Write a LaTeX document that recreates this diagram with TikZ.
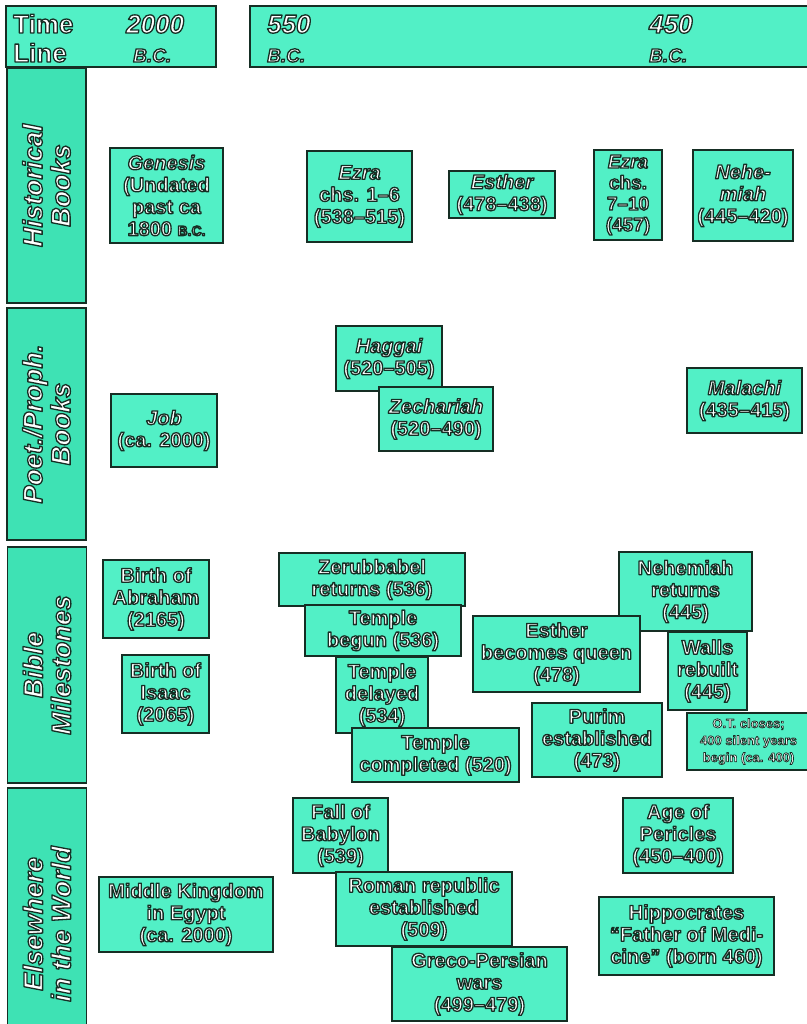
\documentclass[tikz,border=0pt]{standalone}
\usepackage{fontspec}
\setmainfont{Liberation Sans}
\definecolor{aqua}{RGB}{82,240,198}
\definecolor{aqualab}{RGB}{62,226,180}
\definecolor{edge}{RGB}{22,46,36}
\newcommand\olw{1.3}
\newcommand\oc[1]{\special{pdf:literal direct 2 Tr 1 j \olw\space w 0.086 0.18 0.14 RG}#1\special{pdf:literal direct 0 Tr}}
\newcommand\ti[1]{\oc{\itshape #1}}
\newcommand\smbc{{\fontsize{14}{14}\selectfont B.C.}}
\begin{document}
\begin{tikzpicture}[x=1pt,y=-1pt,
  box/.style={draw=edge, fill=aqua, line width=1.8pt, inner sep=1pt, align=center, text=white,
    font=\bfseries\fontsize{20}{22}\selectfont},
  lab/.style={draw=edge, fill=aqualab, line width=1.8pt, inner sep=0pt, align=center, text=white,
    font=\bfseries\itshape\fontsize{27}{28}\selectfont, minimum height=79pt, rotate=90},
  hdr/.style={draw=edge, fill=aqua, line width=1.8pt, inner sep=0pt},
  htxt/.style={anchor=base west, inner sep=0pt, text=white, font=\bfseries\fontsize{26}{26}\selectfont},
  hit/.style={anchor=base west, inner sep=0pt, text=white, font=\bfseries\itshape\fontsize{26}{26}\selectfont},
  hbc/.style={anchor=base west, inner sep=0pt, text=white, font=\bfseries\itshape\fontsize{19}{19}\selectfont}]
\useasboundingbox[fill=white] (0,0) rectangle (806,1024);

% header
\node[hdr, minimum width=210pt, minimum height=61pt] (hleft) at (111,36.5) {};
\node[hdr, minimum width=562pt, minimum height=61pt] (hright) at (531,36.5) {};
\node[htxt] (time) at (13,33) {\oc{Time}};
\node[htxt] (line) at (13,62) {\oc{Line}};
\node[hit] (y2000) at (126,33) {\oc{2000}};
\node[hbc] (bc1) at (133,62) {\oc{B.C.}};
\node[hit] (y550) at (267,33) {\oc{550}};
\node[hbc] (bc2) at (267,62) {\oc{B.C.}};
\node[hit] (y450) at (649,33) {\oc{450}};
\node[hbc] (bc3) at (649,62) {\oc{B.C.}};

% row labels
\node[lab, minimum width=235pt] (lhist) at (46.5,185.5) {\oc{Historical}\\\oc{Books}};
\node[lab, minimum width=232pt] (lpoet) at (46.5,424) {\oc{Poet./Proph.}\\\oc{Books}};
\node[lab, minimum width=236pt] (lbible) at (47,665) {\oc{Bible}\\\oc{Milestones}};
\node[lab, minimum width=272pt] (lelse) at (47,924) {\oc{Elsewhere}\\\oc{in the World}};

% historical books
\node[box, minimum width=113pt, minimum height=95pt] (genesis) at (166.5,195.5)
  {\ti{Genesis}\\\oc{(Undated}\\\oc{past ca}\\\oc{1800 \smbc}};
\node[box, minimum width=105pt, minimum height=91pt] (ezra1) at (359.5,196.5)
  {\ti{Ezra}\\\oc{chs. 1–6}\\\oc{(538–515)}};
\node[box, minimum width=106pt, minimum height=47pt] (esther) at (502,194.5)
  {\ti{Esther}\\\oc{(478–438)}};
\node[box, minimum width=68pt, minimum height=90pt, font=\bfseries\fontsize{19}{21}\selectfont] (ezra2) at (628,195)
  {\ti{Ezra}\\\oc{chs.}\\\oc{7–10}\\\oc{(457)}};
\node[box, minimum width=100pt, minimum height=91pt] (nehemiah) at (743,195.5)
  {\ti{Nehe-}\\\ti{miah}\\\oc{(445–420)}};

% poetical / prophetical books
\node[box, minimum width=106pt, minimum height=73pt] (job) at (164,430.5)
  {\ti{Job}\\\oc{(ca. 2000)}};
\node[box, minimum width=106pt, minimum height=65pt] (haggai) at (389,358.5)
  {\ti{Haggai}\\\oc{(520–505)}};
\node[box, minimum width=114pt, minimum height=64pt] (zechariah) at (436,419)
  {\ti{Zechariah}\\\oc{(520–490)}};
\node[box, minimum width=115pt, minimum height=65pt] (malachi) at (744.5,400.5)
  {\ti{Malachi}\\\oc{(435–415)}};

% bible milestones
\node[box, minimum width=106pt, minimum height=78pt] (abraham) at (156,599)
  {\oc{Birth of}\\\oc{Abraham}\\\oc{(2165)}};
\node[box, minimum width=87pt, minimum height=78pt] (isaac) at (165.5,694)
  {\oc{Birth of}\\\oc{Isaac}\\\oc{(2065)}};
\node[box, minimum width=186pt, minimum height=53pt] (zerub) at (372,579.5)
  {\oc{Zerubbabel}\\\oc{returns (536)}};
\node[box, minimum width=156pt, minimum height=51pt] (tbegun) at (383,630.5)
  {\oc{Temple}\\\oc{begun (536)}};
\node[box, minimum width=92pt, minimum height=76pt] (tdelay) at (382,695)
  {\oc{Temple}\\\oc{delayed}\\\oc{(534)}};
\node[box, minimum width=167pt, minimum height=54pt] (tcompl) at (435.5,755)
  {\oc{Temple}\\\oc{completed (520)}};
\node[box, minimum width=133pt, minimum height=79pt] (nehret) at (685.5,591.5)
  {\oc{Nehemiah}\\\oc{returns}\\\oc{(445)}};
\node[box, minimum width=167pt, minimum height=76pt] (estq) at (556.5,654)
  {\oc{Esther}\\\oc{becomes queen}\\\oc{(478)}};
\node[box, minimum width=79pt, minimum height=78pt] (walls) at (707.5,671)
  {\oc{Walls}\\\oc{rebuilt}\\\oc{(445)}};
\node[box, minimum width=130pt, minimum height=74pt] (purim) at (597,740)
  {\oc{Purim}\\\oc{established}\\\oc{(473)}};
\node[box, minimum width=123pt, minimum height=57pt, font=\bfseries\fontsize{13}{17}\selectfont\def\olw{0.7}] (otclose) at (748.5,741.5)
  {\oc{O.T. closes;}\\\oc{400 silent years}\\\oc{begin (ca. 400)}};

% elsewhere in the world
\node[box, minimum width=174pt, minimum height=75pt] (egypt) at (186,914.5)
  {\oc{Middle Kingdom}\\\oc{in Egypt}\\\oc{(ca. 2000)}};
\node[box, minimum width=95pt, minimum height=75pt] (babylon) at (340.5,835.5)
  {\oc{Fall of}\\\oc{Babylon}\\\oc{(539)}};
\node[box, minimum width=176pt, minimum height=74pt] (roman) at (424,909)
  {\oc{Roman republic}\\\oc{established}\\\oc{(509)}};
\node[box, minimum width=175pt, minimum height=74pt] (greco) at (479.5,984)
  {\oc{Greco-Persian}\\\oc{wars}\\\oc{(499–479)}};
\node[box, minimum width=110pt, minimum height=75pt] (pericles) at (678,835.5)
  {\oc{Age of}\\\oc{Pericles}\\\oc{(450–400)}};
\node[box, minimum width=175pt, minimum height=78pt] (hippo) at (686.5,936)
  {\oc{Hippocrates}\\\oc{“Father of Medi-}\\\oc{cine” (born 460)}};
\end{tikzpicture}
\end{document}
